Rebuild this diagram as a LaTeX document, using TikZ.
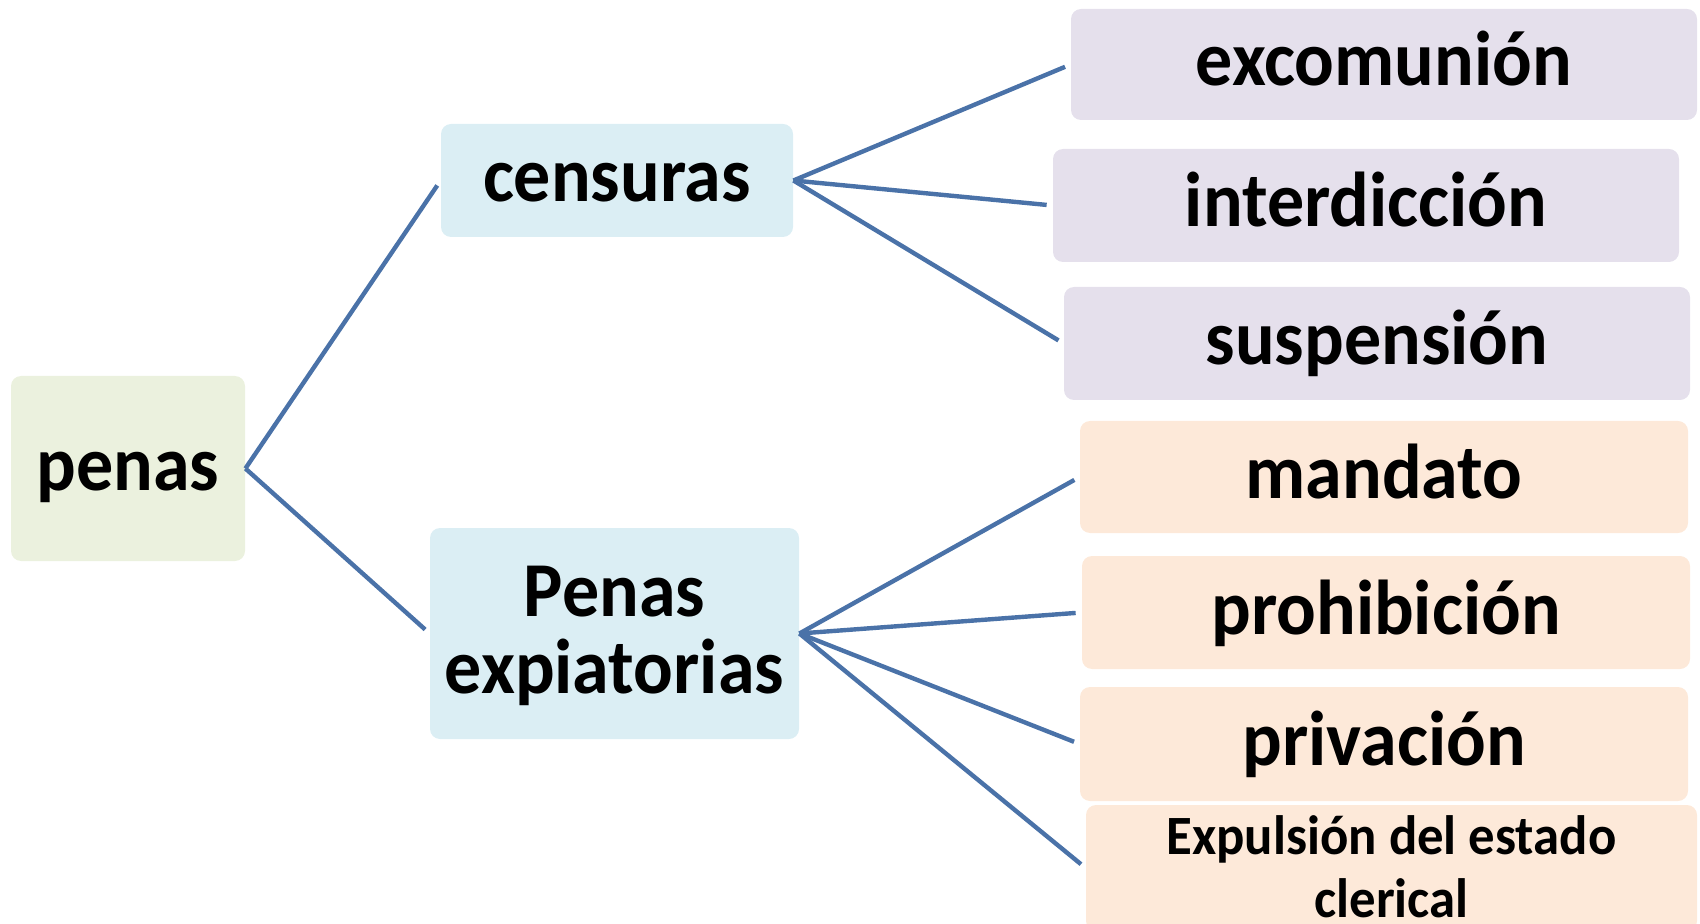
\documentclass[tikz,border=0pt]{standalone}
\usepackage{fontspec}
\usepackage{graphicx}
\usepackage{tikz}
\usetikzlibrary{positioning}
\setmainfont{Carlito}

\definecolor{verdeclaro}{HTML}{EBF1DE}
\definecolor{azulclaro}{HTML}{DBEEF4}
\definecolor{lilaclaro}{HTML}{E5E0EC}
\definecolor{naranjaclaro}{HTML}{FDE9D9}
\definecolor{linea}{HTML}{4A72A8}

\newcommand{\alto}[1]{\scalebox{1}[1.05]{#1}}
\newcommand{\grande}{\fontsize{37}{37}\selectfont\bfseries}
\newcommand{\chico}{\fontsize{26.4}{30}\selectfont\bfseries}

\tikzset{
    caja/.style={rounded corners=5pt, inner sep=0pt, align=center, font=\grande},
    una/.style={caja, text height=21.5pt, text depth=0pt},
    rama/.style={draw=linea, line width=2.2pt, shorten >=3pt}
}

\begin{document}
\begin{tikzpicture}[x=0.5pt, y=-0.5pt]
                    \useasboundingbox (0, 0) rectangle (1700, 924);

                    \node[una, fill=verdeclaro, minimum width=117pt, minimum height=92.5pt] (penas) at (128, 468.5) {\alto{penas}};
                    \node[una, fill=azulclaro, minimum width=176pt, minimum height=56.5pt] (censuras) at (617, 180.5) {\alto{censuras}};
                    \node[caja, fill=azulclaro, minimum width=184.5pt, minimum height=105.5pt] (expiatorias) at (614.5, 633.5)
                        {\raisebox{-3pt}[\height][\depth]{\alto{\begin{tabular}{@{}c@{}}Penas\\expiatorias\end{tabular}}}};

                    \node[una, fill=lilaclaro, minimum width=313pt, minimum height=55.5pt] (excomunion) at (1384, 64.5) {\alto{excomunión}};
                    \node[una, fill=lilaclaro, minimum width=313pt, minimum height=56.5pt] (interdiccion) at (1366, 205.5) {\alto{interdicción}};
                    \node[una, fill=lilaclaro, minimum width=313pt, minimum height=56.5pt] (suspension) at (1377, 343.5) {\alto{suspensión}};

                    \node[una, fill=naranjaclaro, minimum width=304pt, minimum height=56pt] (mandato) at (1384, 477) {\alto{mandato}};
                    \node[una, fill=naranjaclaro, minimum width=304pt, minimum height=56.5pt] (prohibicion) at (1386, 612.5) {\alto{prohibición}};
                    \node[una, fill=naranjaclaro, minimum width=304pt, minimum height=57pt] (privacion) at (1384, 744) {\alto{privación}};
                    \node[caja, fill=naranjaclaro, minimum width=305.5pt, minimum height=56pt, font=\chico] (expulsion) at (1391.5, 868)
                        {\raisebox{-2.5pt}[\height][\depth]{\alto{\begin{tabular}{@{}c@{}}Expulsión del estado\\clerical\end{tabular}}}};

                    \path[rama]
                    (penas.east) edge (censuras.west)
                    (penas.east) edge (expiatorias.west)
                    (censuras.east) edge (excomunion.west)
                    (censuras.east) edge (interdiccion.west)
                    (censuras.east) edge (suspension.west)
                    (expiatorias.east) edge (mandato.west)
                    (expiatorias.east) edge (prohibicion.west)
                    (expiatorias.east) edge (privacion.west)
                    (expiatorias.east) edge (expulsion.west);
                \end{tikzpicture}
\end{document}
